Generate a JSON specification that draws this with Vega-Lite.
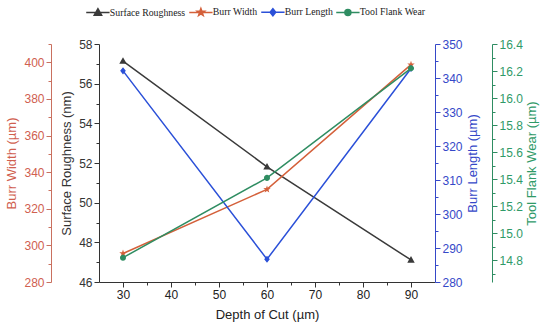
{
  "$schema": "https://vega.github.io/schema/vega-lite/v6.json",
  "width": 336,
  "height": 238,
  "autosize": {"type": "none"},
  "padding": {"left": 99, "top": 44, "right": 115, "bottom": 49},
  "background": "white",
  "config": {
    "view": {"stroke": null},
    "axis": {
      "grid": false,
      "labelFont": "Liberation Sans",
      "titleFont": "Liberation Sans",
      "labelFontSize": 12,
      "titleFontSize": 13,
      "titleFontWeight": "normal",
      "domainColor": "#333333",
      "tickColor": "#333333",
      "labelColor": "#333333",
      "titleColor": "#333333"
    }
  },
  "data": {
    "values": [
      {"d": 30, "s": "Surface Roughness", "v": 57.14},
      {"d": 60, "s": "Surface Roughness", "v": 51.81},
      {"d": 90, "s": "Surface Roughness", "v": 47.11},
      {"d": 30, "s": "Burr Width", "v": 295.6},
      {"d": 60, "s": "Burr Width", "v": 330.6},
      {"d": 90, "s": "Burr Width", "v": 398.7},
      {"d": 30, "s": "Burr Length", "v": 342.1},
      {"d": 60, "s": "Burr Length", "v": 286.7},
      {"d": 90, "s": "Burr Length", "v": 342.8},
      {"d": 30, "s": "Tool Flank Wear", "v": 14.82},
      {"d": 60, "s": "Tool Flank Wear", "v": 15.41},
      {"d": 90, "s": "Tool Flank Wear", "v": 16.22}
    ]
  },
  "encoding": {
    "x": {
      "field": "d",
      "type": "quantitative",
      "scale": {"domain": [25, 95], "nice": false, "zero": false},
      "axis": {
        "title": "Depth of Cut (µm)",
        "values": [30, 35, 40, 45, 50, 55, 60, 65, 70, 75, 80, 85, 90],
        "labelExpr": "datum.value % 10 === 0 ? datum.label : ''",
        "tickSize": {"condition": {"test": "datum.value % 10 !== 0", "value": 3}, "value": 5},
        "titlePadding": 8,
        "labelColor": "#222222",
        "titleColor": "#222222"
      }
    },
    "color": {
      "field": "s",
      "type": "nominal",
      "scale": {
        "domain": ["Surface Roughness", "Burr Width", "Burr Length", "Tool Flank Wear"],
        "range": ["#3a3a3a", "#d4603a", "#2b50d8", "#2f8d62"]
      },
      "legend": {
        "orient": "none",
        "legendX": -6,
        "legendY": -37,
        "direction": "horizontal",
        "columns": 4,
        "title": null,
        "labelFont": "Liberation Serif",
        "labelFontSize": 9.8,
        "labelColor": "#222222",
        "symbolSize": 50,
        "labelOffset": 7,
        "columnPadding": 0,
        "symbolStrokeWidth": 1.5,
        "encode": {"symbols": {"update": {"stroke": {"scale": "color", "field": "value"}}}}
      }
    }
  },
  "layer": [
    {
      "transform": [{"filter": "datum.s === 'Surface Roughness'"}],
      "encoding": {
        "y": {
          "field": "v",
          "type": "quantitative",
          "scale": {"domain": [46, 58], "nice": false, "zero": false},
          "axis": {
            "orient": "left",
            "title": "Surface Roughness (nm)",
            "values": [46, 47, 48, 49, 50, 51, 52, 53, 54, 55, 56, 57, 58],
            "labelExpr": "datum.value % 2 === 0 ? datum.label : ''",
            "tickSize": {"condition": {"test": "datum.value % 2 !== 0", "value": 3}, "value": 5},
            "titlePadding": 5
          }
        }
      },
      "layer": [
        {"mark": {"type": "line", "strokeWidth": 1.5}},
        {
          "mark": {"type": "point", "filled": true, "opacity": 1, "size": 50},
          "encoding": {
            "shape": {
              "field": "s",
              "type": "nominal",
              "scale": {
                "domain": ["Surface Roughness", "Burr Width", "Burr Length", "Tool Flank Wear"],
                "range": [
                  "M-3.3,0H3.3M0,-1.1L1.05,0.75L-1.05,0.75Z",
                  "M-3.3,0H3.3M0,-1.1L0.26,-0.36L1.05,-0.34L0.42,0.14L0.65,0.89L0,0.44L-0.65,0.89L-0.42,0.14L-1.05,-0.34L-0.26,-0.36Z",
                  "M-3.3,0H3.3M0,-1L0.8,0L0,1L-0.8,0Z",
                  "M-3.3,0H3.3M-0.85,0A0.85,0.85,0,1,0,0.85,0A0.85,0.85,0,1,0,-0.85,0Z"
                ]
              }
            }
          }
        }
      ]
    },
    {
      "transform": [{"filter": "datum.s === 'Burr Width'"}],
      "encoding": {
        "y": {
          "field": "v",
          "type": "quantitative",
          "scale": {"domain": [280, 410], "nice": false, "zero": false},
          "axis": {
            "orient": "left",
            "offset": 48,
            "title": "Burr Width (µm)",
            "values": [280, 290, 300, 310, 320, 330, 340, 350, 360, 370, 380, 390, 400, 410],
            "labelExpr": "datum.value % 20 === 0 ? datum.label : ''",
            "tickSize": {"condition": {"test": "datum.value % 20 !== 0", "value": 3}, "value": 5},
            "titlePadding": 5,
            "domainColor": "#c9705f",
            "tickColor": "#c9705f",
            "labelColor": "#d0604f",
            "titleColor": "#d0604f"
          }
        }
      },
      "layer": [
        {"mark": {"type": "line", "strokeWidth": 1.5}},
        {
          "mark": {"type": "point", "filled": true, "opacity": 1, "size": 50},
          "encoding": {"shape": {"field": "s", "type": "nominal"}}
        }
      ]
    },
    {
      "transform": [{"filter": "datum.s === 'Burr Length'"}],
      "encoding": {
        "y": {
          "field": "v",
          "type": "quantitative",
          "scale": {"domain": [280, 350], "nice": false, "zero": false},
          "axis": {
            "orient": "right",
            "title": "Burr Length (µm)",
            "titleAngle": 270,
            "titleBaseline": "top",
            "values": [280, 285, 290, 295, 300, 305, 310, 315, 320, 325, 330, 335, 340, 345, 350],
            "labelExpr": "datum.value % 10 === 0 ? datum.label : ''",
            "tickSize": {"condition": {"test": "datum.value % 10 !== 0", "value": 3}, "value": 5},
            "titlePadding": 4,
            "domainColor": "#3548c8",
            "tickColor": "#3548c8",
            "labelColor": "#3548c8",
            "titleColor": "#3548c8"
          }
        }
      },
      "layer": [
        {"mark": {"type": "line", "strokeWidth": 1.5}},
        {
          "mark": {"type": "point", "filled": true, "opacity": 1, "size": 50},
          "encoding": {"shape": {"field": "s", "type": "nominal"}}
        }
      ]
    },
    {
      "transform": [{"filter": "datum.s === 'Tool Flank Wear'"}],
      "encoding": {
        "y": {
          "field": "v",
          "type": "quantitative",
          "scale": {"domain": [14.64, 16.4], "nice": false, "zero": false},
          "axis": {
            "orient": "right",
            "offset": 57,
            "title": "Tool Flank Wear (µm)",
            "titleAngle": 270,
            "titleBaseline": "top",
            "values": [14.7, 14.8, 14.9, 15.0, 15.1, 15.2, 15.3, 15.4, 15.5, 15.6, 15.7, 15.8, 15.9, 16.0, 16.1, 16.2, 16.3, 16.4],
            "labelExpr": "round(datum.value * 10) % 2 === 0 ? format(datum.value, '.1f') : ''",
            "tickSize": {"condition": {"test": "round(datum.value * 10) % 2 !== 0", "value": 3}, "value": 5},
            "titlePadding": 3,
            "domainColor": "#2f8d62",
            "tickColor": "#2f8d62",
            "labelColor": "#2f9a68",
            "titleColor": "#2f9a68"
          }
        }
      },
      "layer": [
        {"mark": {"type": "line", "strokeWidth": 1.5}},
        {
          "mark": {"type": "point", "filled": true, "opacity": 1, "size": 50},
          "encoding": {"shape": {"field": "s", "type": "nominal"}}
        }
      ]
    }
  ],
  "resolve": {"scale": {"y": "independent"}}
}
